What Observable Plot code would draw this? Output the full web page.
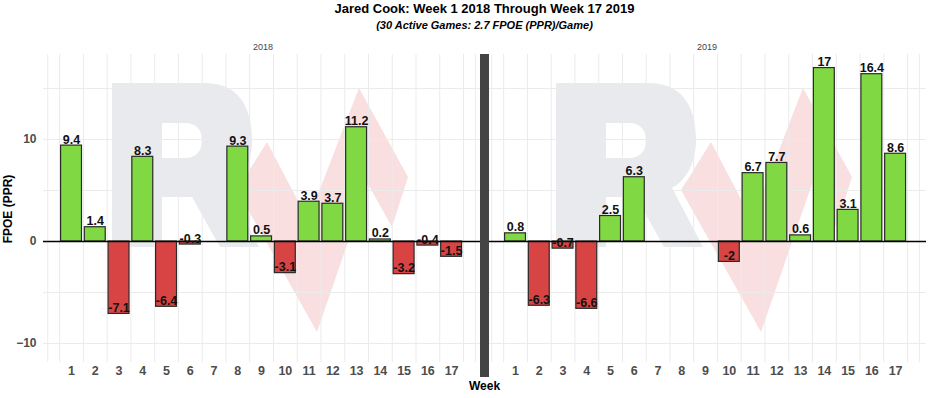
<!DOCTYPE html>
<html><head><meta charset="utf-8">
<script src="https://cdn.jsdelivr.net/npm/d3@7"></script>
<script src="https://cdn.jsdelivr.net/npm/@observablehq/plot@0.6"></script>
<style>
body{margin:0;background:#fff;font-family:"Liberation Sans",Arial,sans-serif;}
#wrap{position:relative;width:931px;height:398px;overflow:hidden}
.title{margin-left:43px;width:883px;text-align:center;font-weight:bold;font-size:13px;height:18px;line-height:18px;color:#000}
.sub{margin-left:43px;width:883px;text-align:center;font-weight:bold;font-style:italic;font-size:11px;height:16px;line-height:14px;color:#000}
#chart svg{display:block}
</style></head><body>
<div id="wrap">
<div class="title">Jared Cook: Week 1 2018 Through Week 17 2019</div>
<div class="sub">(30 Active Games: 2.7 FPOE (PPR)/Game)</div>
<div id="chart"></div>
</div>
<script>
// ---- data ----
const seasons = ["2018", "2019"];
const weeks = [1,2,3,4,5,6,7,8,9,10,11,12,13,14,15,16,17];
const fpoe2018 = [9.4, 1.4, -7.1, 8.3, -6.4, -0.3, null, 9.3, 0.5, -3.1, 3.9, 3.7, 11.2, 0.2, -3.2, -0.4, -1.5];
const fpoe2019 = [0.8, -6.3, -0.7, -6.6, 2.5, 6.3, null, null, null, -2, 6.7, 7.7, 0.6, 17, 3.1, 16.4, 8.6];
const yTicks = [-10, 0, 10];
const yGrid = [-10, -5, 0, 5, 10, 15];
const xGrid = [0, 0.5, 1.5, 2.5, 3.5, 4.5, 5.5, 6.5, 7.5, 8.5, 9.5, 10.5, 11.5, 12.5, 13.5, 14.5, 15.5, 16.5, 17.5, 18];

const GREEN = "#80d843", RED = "#d84444";
const rows = [];
seasons.forEach((s, i) => {
  const vals = i === 0 ? fpoe2018 : fpoe2019;
  weeks.forEach((w, j) => { if (vals[j] != null) rows.push({season: s, week: w, fpoe: vals[j]}); });
});

const FONT = "Liberation Sans, Arial, sans-serif";
const chart = Plot.plot({
  width: 931, height: 364,
  marginTop: 20, marginBottom: 36, marginLeft: 43, marginRight: 5,
  style: {fontFamily: FONT, background: "transparent", overflow: "visible"},
  fx: {domain: seasons, paddingInner: 0.0113, paddingOuter: 0},
  x: {domain: [-0.18, 18.3]},
  y: {domain: [-11.86, 18.33]},
  marks: [
    Plot.gridY(yGrid, {stroke: "#ebebeb", strokeOpacity: 1, strokeWidth: 1}),
    Plot.gridX(xGrid, {stroke: "#ebebeb", strokeOpacity: 1, strokeWidth: 1}),
    Plot.rect(rows, {fx: "season", x1: d => d.week - 0.44, x2: d => d.week + 0.44, y1: 0, y2: "fpoe",
      fill: d => d.fpoe >= 0 ? GREEN : RED, stroke: "#2a2a2a", strokeWidth: 1.2}),
    Plot.ruleY([0], {stroke: "#000", strokeWidth: 1.7}),
    Plot.text(rows, {fx: "season", x: "week", y: "fpoe", text: d => String(d.fpoe),
      lineAnchor: "bottom", dy: -2, fontWeight: "bold", fontSize: 12.5, fill: "#111"}),
    Plot.axisX(weeks, {tickSize: 0, tickPadding: 4, fontSize: 12.5, fontWeight: "bold", fill: "#4d4d4d", label: null}),
    Plot.axisY(yTicks, {tickSize: 0, tickPadding: 7, fontSize: 12, fontWeight: "bold", fill: "#4d4d4d", label: null}),
    Plot.axisFx({anchor: "top", tickSize: 0, tickPadding: 5, fontSize: 9, fill: "#444", label: null})
  ]
});
document.getElementById("chart").appendChild(chart);

// ---- decorations ----
const svg = d3.select(chart);
const fx = chart.scale("fx");
const leftOf = s => fx.apply(s);
const right1 = leftOf("2018") + fx.bandwidth;
const left2 = leftOf("2019");
const mid = (right1 + left2) / 2;

// watermark (logo) behind everything, drawn per panel
const RPATH = "M112,83 H205 C236,83 252,104 252,140 C252,164 241,181 228,188 L259,247 H220 L192,197 H162 V247 H112 Z M162,123 H185 C197,123 202,131 202,140.5 C202,150 197,158 185,158 H162 Z";
const PINK = "M237,190 L267,142 L308,220 L359,88 L408,177 L392,227 L368,184 L317,332 Z";
const wm = svg.insert("g", "g").attr("aria-label", "watermark");
seasons.forEach(s => {
  const dx = leftOf(s) - 43;
  const g = wm.append("g").attr("transform", `translate(${dx},-34)`);
  g.append("path").attr("d", PINK).attr("fill", "#f9dfdf");
  g.append("path").attr("d", RPATH).attr("fill", "none").attr("stroke", "#fff").attr("stroke-width", 8).attr("stroke-linejoin", "miter");
  g.append("path").attr("d", RPATH).attr("fill", "#e9eaed").attr("fill-rule", "evenodd");
});

// separator between the panels
svg.append("rect").attr("x", mid - 4.5).attr("width", 9).attr("y", 20).attr("height", 323).attr("fill", "#444");

// axis titles
svg.append("text").attr("transform", "translate(8,175) rotate(-90)")
  .attr("text-anchor", "middle").attr("dominant-baseline", "central")
  .attr("font-weight", "bold").attr("font-size", 12).attr("fill", "#000").text("FPOE (PPR)");
svg.append("text").attr("x", mid).attr("y", 352)
  .attr("text-anchor", "middle").attr("dominant-baseline", "central")
  .attr("font-weight", "bold").attr("font-size", 12).attr("fill", "#000").text("Week");
</script>
</body></html>
